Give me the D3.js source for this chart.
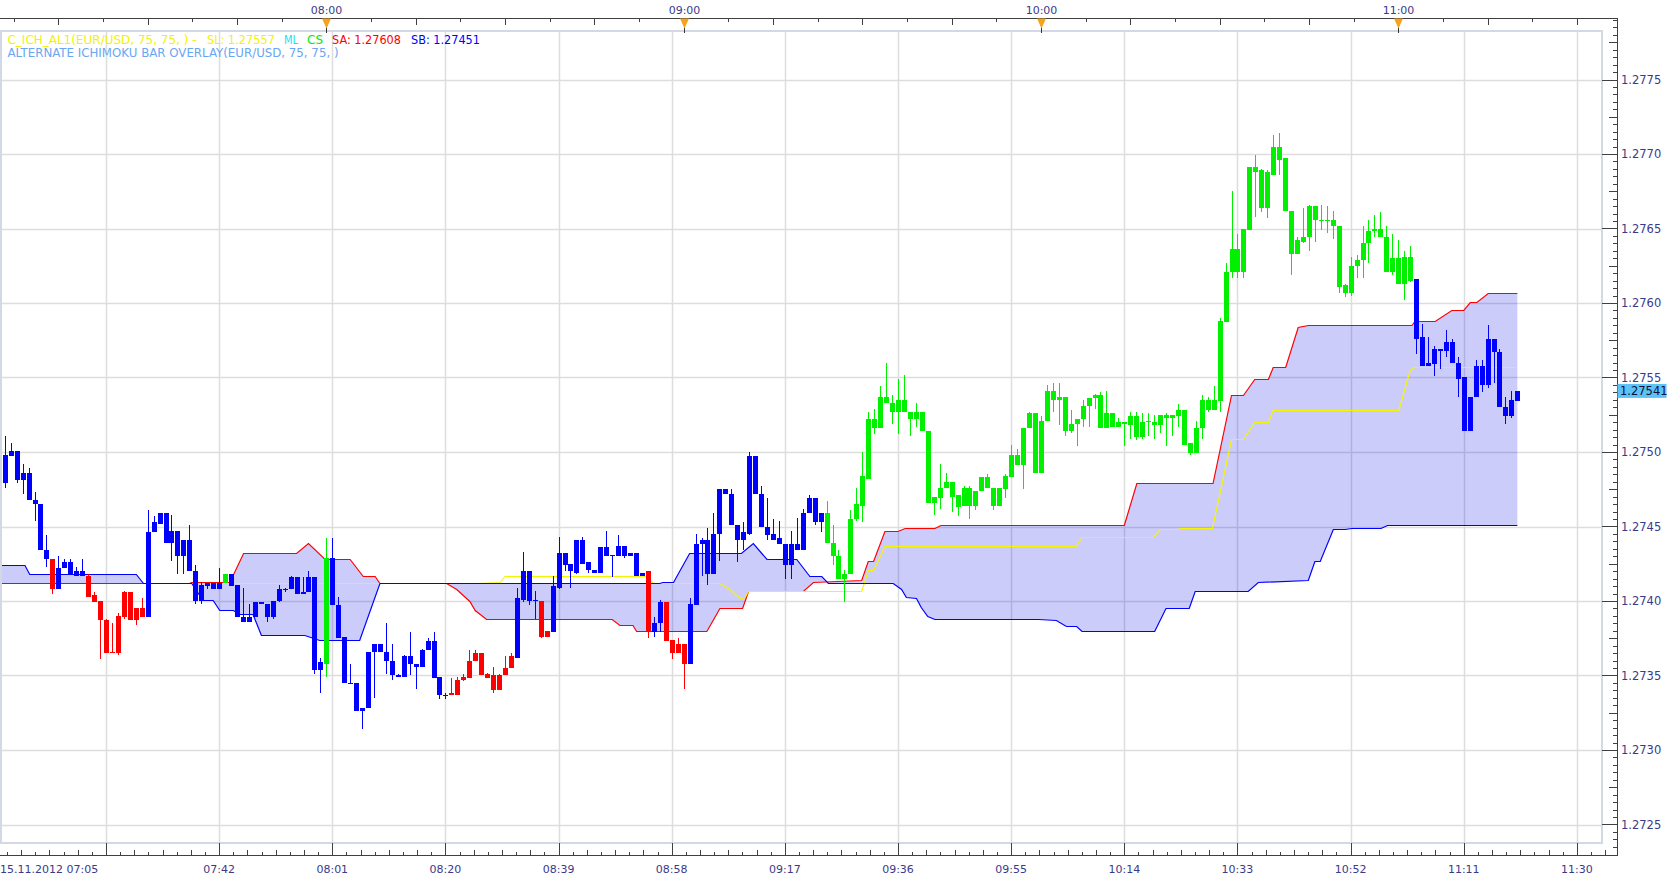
<!DOCTYPE html>
<html><head><meta charset="utf-8">
<script src="https://cdn.jsdelivr.net/npm/d3@7"></script>
<style>html,body{margin:0;padding:0;background:#fff;overflow:hidden}text{font-family:"DejaVu Sans",Verdana,sans-serif}</style>
</head><body><svg id="c" width="1674" height="880"></svg>
<script>
// ---------- DATA (one candle per minute, index 0 = 15.11.2012 07:05) ----------
const startLabel = "15.11.2012 07:05";
const opens = [
1.27480,1.27479,1.27497,1.27501,1.27481,1.27486,1.27468,1.27465,1.27434,1.27428,
1.27408,1.27422,1.27426,1.27420,1.27417,1.27417,1.27404,1.27400,1.27387,1.27366,
1.27365,1.27389,1.27406,1.27387,1.27395,1.27389,1.27446,1.27452,1.27459,1.27439,
1.27447,1.27430,1.27441,1.27420,1.27400,1.27410,1.27412,1.27408,1.27412,1.27418,
1.27411,1.27389,1.27386,1.27389,1.27399,1.27398,1.27389,1.27400,1.27408,1.27408,
1.27416,1.27405,1.27406,1.27416,1.27354,1.27358,1.27429,1.27397,1.27376,1.27345,
1.27345,1.27326,1.27328,1.27366,1.27371,1.27366,1.27360,1.27350,1.27349,1.27363,
1.27358,1.27356,1.27367,1.27373,1.27349,1.27337,1.27337,1.27337,1.27347,1.27348,
1.27360,1.27365,1.27351,1.27350,1.27340,1.27350,1.27355,1.27362,1.27401,1.27420,
1.27400,1.27400,1.27376,1.27379,1.27409,1.27432,1.27425,1.27419,1.27441,1.27426,
1.27421,1.27419,1.27436,1.27431,1.27430,1.27437,1.27430,1.27432,1.27417,1.27420,
1.27379,1.27385,1.27399,1.27374,1.27365,1.27371,1.27358,1.27397,1.27438,1.27441,
1.27418,1.27445,1.27475,1.27472,1.27451,1.27441,1.27445,1.27497,1.27472,1.27450,
1.27445,1.27442,1.27438,1.27424,1.27438,1.27434,1.27459,1.27469,1.27453,1.27459,
1.27439,1.27430,1.27415,1.27418,1.27455,1.27464,1.27482,1.27522,1.27516,1.27537,
1.27533,1.27527,1.27535,1.27527,1.27522,1.27527,1.27514,1.27466,1.27469,1.27476,
1.27480,1.27471,1.27464,1.27476,1.27464,1.27474,1.27483,1.27476,1.27464,1.27475,
1.27483,1.27498,1.27491,1.27516,1.27526,1.27486,1.27521,1.27541,1.27535,1.27537,
1.27514,1.27519,1.27522,1.27531,1.27536,1.27538,1.27516,1.27526,1.27517,1.27520,
1.27518,1.27524,1.27510,1.27521,1.27520,1.27518,1.27525,1.27523,1.27524,1.27528,
1.27506,1.27499,1.27516,1.27535,1.27528,1.27534,1.27587,1.27621,1.27636,1.27621,
1.27649,1.27691,1.27689,1.27664,1.27686,1.27705,1.27697,1.27662,1.27633,1.27641,
1.27644,1.27665,1.27656,1.27655,1.27656,1.27652,1.27612,1.27607,1.27625,1.27629,
1.27640,1.27648,1.27650,1.27644,1.27621,1.27630,1.27613,1.27631,1.27616,1.27577,
1.27558,1.27559,1.27569,1.27568,1.27574,1.27560,1.27550,1.27514,1.27537,1.27558,
1.27545,1.27576,1.27567,1.27530,1.27524,1.27534];
const highs = [
1.27481,1.27511,1.27506,1.27501,1.27492,1.27489,1.27473,1.27465,1.27444,1.27428,
1.27430,1.27428,1.27428,1.27423,1.27428,1.27418,1.27406,1.27400,1.27388,1.27385,
1.27392,1.27407,1.27406,1.27395,1.27402,1.27461,1.27457,1.27459,1.27459,1.27458,
1.27447,1.27441,1.27451,1.27424,1.27413,1.27412,1.27412,1.27422,1.27418,1.27418,
1.27411,1.27409,1.27398,1.27399,1.27399,1.27398,1.27400,1.27411,1.27409,1.27417,
1.27416,1.27416,1.27420,1.27416,1.27362,1.27442,1.27442,1.27403,1.27376,1.27358,
1.27345,1.27328,1.27366,1.27371,1.27371,1.27385,1.27371,1.27351,1.27364,1.27379,
1.27358,1.27368,1.27375,1.27379,1.27349,1.27338,1.27348,1.27349,1.27351,1.27367,
1.27367,1.27365,1.27352,1.27356,1.27351,1.27363,1.27365,1.27409,1.27433,1.27420,
1.27407,1.27400,1.27380,1.27417,1.27443,1.27432,1.27425,1.27441,1.27443,1.27426,
1.27421,1.27436,1.27447,1.27431,1.27444,1.27437,1.27432,1.27432,1.27419,1.27420,
1.27389,1.27401,1.27399,1.27374,1.27375,1.27371,1.27402,1.27445,1.27442,1.27449,
1.27459,1.27475,1.27475,1.27475,1.27451,1.27453,1.27500,1.27497,1.27477,1.27469,
1.27455,1.27454,1.27438,1.27447,1.27456,1.27462,1.27471,1.27469,1.27459,1.27467,
1.27451,1.27434,1.27421,1.27461,1.27476,1.27500,1.27527,1.27529,1.27544,1.27560,
1.27538,1.27549,1.27552,1.27527,1.27533,1.27527,1.27514,1.27470,1.27492,1.27486,
1.27480,1.27471,1.27477,1.27477,1.27474,1.27483,1.27485,1.27476,1.27476,1.27485,
1.27505,1.27502,1.27516,1.27527,1.27526,1.27524,1.27545,1.27546,1.27546,1.27537,
1.27528,1.27522,1.27535,1.27536,1.27539,1.27540,1.27541,1.27526,1.27523,1.27520,
1.27527,1.27527,1.27526,1.27526,1.27525,1.27525,1.27526,1.27525,1.27532,1.27528,
1.27506,1.27521,1.27538,1.27537,1.27544,1.27590,1.27627,1.27675,1.27646,1.27650,
1.27691,1.27699,1.27690,1.27689,1.27713,1.27714,1.27697,1.27662,1.27644,1.27664,
1.27666,1.27665,1.27666,1.27665,1.27662,1.27652,1.27613,1.27631,1.27632,1.27652,
1.27656,1.27659,1.27661,1.27652,1.27646,1.27642,1.27635,1.27638,1.27616,1.27586,
1.27577,1.27571,1.27569,1.27582,1.27576,1.27564,1.27550,1.27537,1.27562,1.27562,
1.27585,1.27576,1.27569,1.27537,1.27541,1.27541];
const lows = [
1.27476,1.27476,1.27497,1.27479,1.27472,1.27468,1.27454,1.27434,1.27423,1.27405,
1.27408,1.27422,1.27418,1.27417,1.27417,1.27403,1.27399,1.27361,1.27365,1.27365,
1.27364,1.27388,1.27387,1.27384,1.27389,1.27389,1.27446,1.27452,1.27439,1.27427,
1.27418,1.27418,1.27420,1.27398,1.27398,1.27408,1.27408,1.27408,1.27412,1.27410,
1.27389,1.27386,1.27386,1.27389,1.27398,1.27386,1.27388,1.27399,1.27406,1.27408,
1.27405,1.27405,1.27406,1.27351,1.27338,1.27349,1.27397,1.27375,1.27345,1.27345,
1.27326,1.27314,1.27328,1.27335,1.27366,1.27351,1.27347,1.27349,1.27349,1.27350,
1.27341,1.27356,1.27367,1.27348,1.27334,1.27334,1.27337,1.27337,1.27346,1.27348,
1.27360,1.27350,1.27348,1.27338,1.27340,1.27350,1.27355,1.27362,1.27399,1.27397,
1.27388,1.27375,1.27376,1.27379,1.27408,1.27420,1.27409,1.27418,1.27425,1.27419,
1.27419,1.27419,1.27430,1.27416,1.27430,1.27429,1.27430,1.27417,1.27417,1.27375,
1.27376,1.27379,1.27373,1.27361,1.27365,1.27341,1.27358,1.27397,1.27417,1.27411,
1.27418,1.27427,1.27472,1.27451,1.27426,1.27434,1.27444,1.27472,1.27450,1.27441,
1.27441,1.27438,1.27415,1.27415,1.27434,1.27434,1.27459,1.27451,1.27446,1.27439,
1.27424,1.27415,1.27399,1.27418,1.27454,1.27453,1.27482,1.27512,1.27516,1.27533,
1.27519,1.27512,1.27527,1.27511,1.27517,1.27514,1.27466,1.27458,1.27462,1.27476,
1.27460,1.27457,1.27464,1.27455,1.27461,1.27474,1.27476,1.27461,1.27464,1.27469,
1.27483,1.27491,1.27475,1.27516,1.27486,1.27486,1.27521,1.27527,1.27518,1.27511,
1.27513,1.27504,1.27517,1.27517,1.27529,1.27516,1.27516,1.27517,1.27517,1.27504,
1.27509,1.27508,1.27509,1.27511,1.27509,1.27513,1.27504,1.27511,1.27517,1.27505,
1.27498,1.27499,1.27509,1.27527,1.27528,1.27527,1.27587,1.27617,1.27617,1.27617,
1.27649,1.27658,1.27661,1.27657,1.27686,1.27686,1.27662,1.27619,1.27633,1.27640,
1.27635,1.27641,1.27649,1.27647,1.27643,1.27607,1.27604,1.27605,1.27617,1.27617,
1.27627,1.27644,1.27644,1.27621,1.27619,1.27613,1.27602,1.27614,1.27566,1.27558,
1.27558,1.27551,1.27556,1.27564,1.27560,1.27537,1.27514,1.27514,1.27537,1.27540,
1.27543,1.27546,1.27530,1.27519,1.27523,1.27534];
const closes = [
1.27477,1.27498,1.27501,1.27481,1.27486,1.27468,1.27465,1.27434,1.27428,1.27408,
1.27422,1.27426,1.27418,1.27417,1.27420,1.27403,1.27399,1.27387,1.27365,1.27365,
1.27390,1.27406,1.27387,1.27395,1.27389,1.27446,1.27453,1.27459,1.27439,1.27447,
1.27430,1.27441,1.27420,1.27400,1.27411,1.27412,1.27408,1.27412,1.27418,1.27410,
1.27389,1.27386,1.27389,1.27399,1.27398,1.27389,1.27400,1.27408,1.27408,1.27416,
1.27405,1.27406,1.27416,1.27354,1.27359,1.27429,1.27397,1.27375,1.27345,1.27345,
1.27326,1.27328,1.27366,1.27371,1.27366,1.27360,1.27350,1.27349,1.27363,1.27358,
1.27356,1.27367,1.27373,1.27348,1.27337,1.27337,1.27338,1.27347,1.27349,1.27360,
1.27365,1.27350,1.27348,1.27340,1.27350,1.27355,1.27363,1.27402,1.27420,1.27400,
1.27401,1.27376,1.27380,1.27410,1.27432,1.27424,1.27420,1.27441,1.27425,1.27421,
1.27419,1.27436,1.27430,1.27431,1.27437,1.27430,1.27432,1.27417,1.27419,1.27379,
1.27385,1.27399,1.27373,1.27365,1.27371,1.27358,1.27398,1.27438,1.27441,1.27418,
1.27445,1.27475,1.27472,1.27451,1.27441,1.27446,1.27497,1.27472,1.27450,1.27444,
1.27441,1.27438,1.27424,1.27438,1.27434,1.27459,1.27469,1.27453,1.27459,1.27439,
1.27430,1.27415,1.27418,1.27455,1.27465,1.27484,1.27522,1.27516,1.27537,1.27533,
1.27527,1.27535,1.27527,1.27522,1.27527,1.27514,1.27466,1.27470,1.27476,1.27480,
1.27470,1.27463,1.27476,1.27464,1.27474,1.27483,1.27476,1.27464,1.27476,1.27484,
1.27498,1.27491,1.27516,1.27526,1.27486,1.27521,1.27541,1.27535,1.27537,1.27514,
1.27519,1.27522,1.27531,1.27536,1.27538,1.27516,1.27526,1.27517,1.27520,1.27519,
1.27524,1.27510,1.27520,1.27521,1.27518,1.27525,1.27523,1.27525,1.27528,1.27505,
1.27499,1.27516,1.27535,1.27528,1.27535,1.27588,1.27621,1.27636,1.27621,1.27650,
1.27691,1.27688,1.27664,1.27688,1.27705,1.27696,1.27662,1.27633,1.27642,1.27644,
1.27665,1.27656,1.27655,1.27656,1.27652,1.27611,1.27607,1.27625,1.27629,1.27640,
1.27648,1.27650,1.27644,1.27621,1.27630,1.27613,1.27631,1.27615,1.27576,1.27558,
1.27560,1.27569,1.27568,1.27574,1.27560,1.27549,1.27514,1.27537,1.27558,1.27545,
1.27576,1.27567,1.27530,1.27524,1.27535,1.27541];
// bar tone per candle: B = inside/neutral (blue), R = below cloud (red), G = above cloud (green)
const toneRows = ["BBBBBBBBBR","BBBBBRRRRR","RRRRRBBBBB","BBBBBBBBGB","BBBBBBBBBB","BBBBBGBBBB",
"BBBBBBBBBB","BBBBBBRRRR","RRRRRRRBBB","BRRBBBBBBB","BBBBBBBBBR","BBRRRRBBBB","BBBBBBBBBB",
"BBBBBBBBBG","GGGGGGGGGG","GGGGGGGGGG","GGGGGGGGGG","GGGGGGGGGG","GGGGGGGGGG","GGGGGGGGGG",
"GGGGGGGGGG","GGGGGGGGGG","GGGGGGGGGG","GGGGGGGGBB","BBBBBBBBBB","BBBBBB"];

// Ichimoku lines: [minute index, price] vertices
const senkouA = [[0,1.27412],[24.3,1.27412],[32,1.27412],[32.4,1.27413],[38.8,1.27413],[41.1,1.27432],[50,1.27432],[52,1.27439],[54.8,1.27428],[59,1.27428],[61.2,1.27417],[63.2,1.27417],[64,1.27412],[75.2,1.27412],[76.9,1.27408],[79.1,1.27400],[80,1.27394],[81.9,1.27388],[103,1.27388],[104.3,1.27384],[106.5,1.27384],[107.1,1.27380],[118.9,1.27380],[121.1,1.27395],[124.9,1.27395],[125.9,1.27407],[135.1,1.27407],[136.8,1.27413],[144.9,1.27414],[146,1.27427],[146.9,1.27427],[148.8,1.27447],[151,1.27447],[152.2,1.27449],[157.2,1.27449],[158.2,1.27451],[189,1.27451],[191.1,1.27479],[203.9,1.27479],[207,1.27538],[209,1.27538],[210.9,1.27549],[213.2,1.27549],[214,1.27557],[216.1,1.27557],[218.2,1.27584],[219.9,1.27585],[237.3,1.27585],[237.8,1.27588],[241.2,1.27588],[244,1.27595],[246,1.27595],[247.1,1.27601],[248.2,1.27601],[250.1,1.27607],[255,1.27607]];
const senkouB = [[0,1.27424],[4.4,1.27424],[5.2,1.27418],[23.1,1.27418],[24.3,1.27412],[32.4,1.27412],[34.3,1.27401],[36,1.27401],[37.1,1.27394],[39.4,1.27394],[40.5,1.27391],[42.7,1.27391],[44.1,1.27377],[51.4,1.27377],[53.9,1.27374],[60.6,1.27374],[64,1.27412],[111,1.27412],[111.5,1.27413],[113.3,1.27413],[116,1.27432],[124.7,1.27432],[126.7,1.27439],[129,1.27428],[134,1.27428],[136.2,1.27417],[138.2,1.27417],[139.3,1.27412],[150.2,1.27412],[151.6,1.27408],[152.4,1.27403],[154.1,1.27402],[154.9,1.27396],[156,1.27390],[157.2,1.27388],[174.6,1.27388],[177.6,1.27387],[179,1.27384],[179.3,1.27383],[181,1.27383],[181.9,1.27380],[194.1,1.27380],[196,1.27395],[199.9,1.27395],[200.9,1.27407],[209.8,1.27407],[211.5,1.27413],[219.9,1.27414],[221,1.27427],[221.9,1.27427],[224.1,1.27448],[226.1,1.27448],[227.2,1.27449],[232.1,1.27449],[233.2,1.27451],[255,1.27451]];
const signalLine = [[34.3,1.27412],[80.2,1.27412],[84.2,1.27413],[85,1.27417],[108.8,1.27417],[109.9,1.27412],[121.1,1.27412],[122.8,1.27408],[123.9,1.27404],[124.7,1.27402],[125.3,1.27403],[125.9,1.27407],[144.9,1.27407],[146,1.27421],[146.9,1.27421],[148.8,1.27437],[180.9,1.27437],[181.9,1.27443],[193.9,1.27443],[195,1.27448],[198.1,1.27448],[198.4,1.27449],[203.8,1.27449],[207,1.27509],[209,1.27509],[210.9,1.27520],[213.2,1.27520],[214,1.27528],[235.1,1.27528],[237,1.27555],[237.8,1.27557],[255,1.27557]];

// axes
const priceTicks = [1.2725,1.2730,1.2735,1.2740,1.2745,1.2750,1.2755,1.2760,1.2765,1.2770,1.2775];
const bottomTickMinutes = [37,56,75,94,113,132,151,170,189,208,227,246,265];
const bottomTickLabels = ["07:42","08:01","08:20","08:39","08:58","09:17","09:36","09:55","10:14","10:33","10:52","11:11","11:30"];
const gridMinutes = [18,37,56,75,94,113,132,151,170,189,208,227,246,265];
const hourMinutes = [55,115,175,235];
const hourLabels = ["08:00","09:00","10:00","11:00"];
const lastPrice = 1.27541;
const legendLine1 = [["C_ICH_AL1(EUR/USD, 75, 75, ) -","#f2f200",7.5,189],["SL: 1.27557","#f2f200",207,68],["ML","#00e8f8",284,14],["CS","#00ee00",307,16],["SA: 1.27608","#ff0000",332,69],["SB: 1.27451","#0000ff",411,69]];
const legendLine2 = "ALTERNATE ICHIMOKU BAR OVERLAY(EUR/USD, 75, 75, )";

// ---------- DRAW ----------
const tones = toneRows.join("").split("");
const toneColor = {B:"#0000ff", R:"#ff0000", G:"#00f000"};
const n = Math.min(opens.length, highs.length, lows.length, closes.length, tones.length);
const candles = d3.range(n).map(i => ({t:i, o:opens[i], h:highs[i], l:lows[i], c:closes[i], tone:tones[i]}));

const svg = d3.select("#c");
const x = d3.scaleLinear().domain([0,265]).range([-1.2,1576.9]);
const y = d3.scaleLinear().domain([1.2725,1.2775]).range([824.5,79.5]);
const P = {l:0, r:1602, t:31, b:843};
const axisX = 1617.5, topY = 18.5, botY = 855.5;
const axisTextColor = "#3a3a8a";

svg.append("rect").attr("width",1674).attr("height",880).attr("fill","#fff");
svg.append("defs").append("clipPath").attr("id","clip").append("rect")
  .attr("x",P.l).attr("y",P.t).attr("width",P.r-P.l).attr("height",P.b-P.t);

// grid
const grid = svg.append("g").attr("clip-path","url(#clip)");
grid.selectAll(".gh").data(priceTicks).join("line")
  .attr("x1",P.l).attr("x2",P.r).attr("y1",d=>Math.round(y(d))+0.5).attr("y2",d=>Math.round(y(d))+0.5)
  .attr("stroke","#dddddd").attr("stroke-width",1.5);
grid.selectAll(".gv").data(gridMinutes).join("line")
  .attr("y1",P.t).attr("y2",P.b).attr("x1",d=>Math.round(x(d))+0.5).attr("x2",d=>Math.round(x(d))+0.5)
  .attr("stroke","#dddddd").attr("stroke-width",1.5);

// cloud
const plot = svg.append("g").attr("clip-path","url(#clip)");
const px = d => x(d[0]);
const py = d => Math.round(y(d[1]))+0.5;
const lineGen = d3.line().x(px).y(py);
const cloudPts = senkouA.concat(senkouB.slice().reverse());
plot.append("path").attr("d", d3.line().x(px).y(py)(cloudPts)+"Z")
  .attr("fill","#0000e6").attr("fill-opacity",0.2).attr("stroke","none");
plot.append("path").attr("d",lineGen(senkouA)).attr("fill","none").attr("stroke","#ff0000").attr("stroke-width",1.2);
plot.append("path").attr("d",lineGen(signalLine)).attr("fill","none").attr("stroke","#f5f500").attr("stroke-width",1.2);
plot.append("path").attr("d",lineGen(senkouB)).attr("fill","none").attr("stroke","#0000ff").attr("stroke-width",1.2);

// candles
const cg = plot.append("g").attr("shape-rendering","crispEdges");
cg.selectAll(".wick").data(candles).join("rect")
  .attr("x",d=>Math.round(x(d.t))).attr("width",1)
  .attr("y",d=>Math.round(y(d.h))).attr("height",d=>Math.max(1,Math.round(y(d.l))-Math.round(y(d.h))))
  .attr("fill",d=>toneColor[d.tone]);
cg.selectAll(".body").data(candles).join("rect")
  .attr("x",d=>Math.round(x(d.t))-2).attr("width",5)
  .attr("y",d=>Math.round(y(Math.max(d.o,d.c))))
  .attr("height",d=>Math.max(1,Math.round(y(Math.min(d.o,d.c)))-Math.round(y(Math.max(d.o,d.c)))))
  .attr("fill",d=>toneColor[d.tone]);

// panel border
svg.append("rect").attr("x",P.l+1).attr("y",P.t).attr("width",P.r-P.l-1).attr("height",P.b-P.t)
  .attr("fill","none").attr("stroke","#d2d9e4").attr("stroke-width",2);

// axes lines
const ax = svg.append("g").attr("shape-rendering","crispEdges");
ax.append("line").attr("x1",0).attr("x2",axisX).attr("y1",topY).attr("y2",topY).attr("stroke","#404040");
ax.append("line").attr("x1",0).attr("x2",axisX).attr("y1",botY).attr("y2",botY).attr("stroke","#404040");
ax.append("line").attr("x1",axisX).attr("x2",axisX).attr("y1",topY).attr("y2",botY).attr("stroke","#404040");

// top axis ticks every 7.5 minutes
const topTicks = d3.range(2.5, 268, 7.5);
ax.selectAll(".tt").data(topTicks).join("line")
  .attr("x1",d=>Math.round(x(d))+0.5).attr("x2",d=>Math.round(x(d))+0.5)
  .attr("y1",topY).attr("y2",(d,i)=> i%2===1 ? topY+6 : topY+3.5)
  .attr("stroke","#404040");
// hour markers
hourMinutes.forEach((m,i)=>{
  const cx = Math.round(x(m))+0.5;
  svg.append("line").attr("x1",cx).attr("x2",cx).attr("y1",topY).attr("y2",33).attr("stroke","#333").attr("stroke-width",1);
  svg.append("path").attr("d",`M${cx-4.5},${topY}L${cx+4.5},${topY}L${cx},${topY+10}Z`).attr("fill","#f5a21e");
  svg.append("text").attr("x",cx).attr("y",13.5).attr("text-anchor","middle")
    .attr("font-size","11px").attr("fill",axisTextColor).text(hourLabels[i]);
});

// bottom axis ticks
const botTicks = d3.range(-7, 8*14+1).map(k => ({k, m: 18 + k*19/8})).filter(d => x(d.m) >= 0 && x(d.m) <= axisX);
ax.selectAll(".bt").data(botTicks).join("line")
  .attr("x1",d=>Math.round(x(d.m))+0.5).attr("x2",d=>Math.round(x(d.m))+0.5)
  .attr("y1",d=> ((d.k%8)+8)%8===0 ? P.b : (((d.k%2)+2)%2===0 ? botY-6 : botY-3.5)).attr("y2",botY)
  .attr("stroke","#404040");
svg.selectAll(".bl").data(bottomTickMinutes).join("text")
  .attr("x",d=>x(d)).attr("y",873).attr("text-anchor","middle")
  .attr("font-size","11px").attr("fill",axisTextColor).text((d,i)=>bottomTickLabels[i]);
svg.append("text").attr("x",0).attr("y",873).attr("font-size","11px").attr("fill",axisTextColor).text(startLabel);

// right axis ticks
const minorPrices = d3.range(0, 112).map(i => 1.27235 + i*0.00005).filter(p => y(p) > topY+1 && y(p) < botY-1);
ax.selectAll(".rt").data(minorPrices).join("line")
  .attr("y1",d=>Math.round(y(d))+0.5).attr("y2",d=>Math.round(y(d))+0.5)
  .attr("x1",d=>{const k=Math.round(d*20000)%10; return k===0 ? P.r : (k===5 ? axisX-9 : axisX-5);})
  .attr("x2",axisX).attr("stroke","#404040");
svg.selectAll(".rl").data(priceTicks).join("text")
  .attr("x",1621).attr("y",d=>y(d)+4).attr("font-size","11.5px").attr("fill",axisTextColor)
  .text(d=>d.toFixed(4));

// last price tag
const ly = y(lastPrice);
svg.append("rect").attr("x",axisX).attr("y",ly-7).attr("width",49).attr("height",14).attr("fill","#5cc3f7");
svg.append("text").attr("x",1620).attr("y",ly+4).attr("font-size","11.5px").attr("fill","#10103a").text(lastPrice.toFixed(5));

// legend
legendLine1.forEach(([txt,col,xx,w]) => svg.append("text").attr("x",xx).attr("y",44).attr("font-size","12px")
  .attr("fill",col).attr("textLength",w).attr("lengthAdjust","spacingAndGlyphs").text(txt));
svg.append("text").attr("x",7.5).attr("y",57).attr("font-size","12px").attr("fill","#6aa6f2")
  .attr("textLength",331).attr("lengthAdjust","spacingAndGlyphs").text(legendLine2);
</script>
</body></html>
